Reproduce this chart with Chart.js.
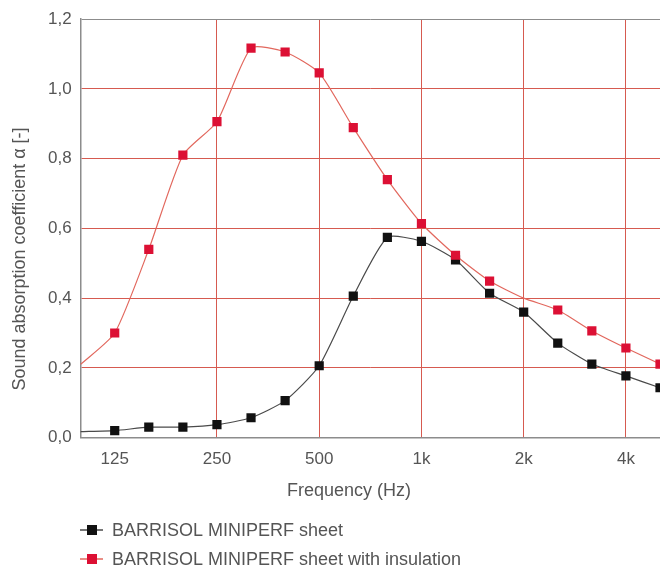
<!DOCTYPE html>
<html>
<head>
<meta charset="utf-8">
<script src="https://cdn.jsdelivr.net/npm/chart.js@4.4.0/dist/chart.umd.min.js"></script>
<style>
    html, body { margin: 0; padding: 0; background: #ffffff; overflow: hidden; }
    #wrap { width: 660px; height: 568px; position: relative; overflow: hidden; }
</style>
</head>
<body>
<div id="wrap"><canvas id="absorptionChart" width="672" height="568"></canvas></div>
<script>
// Third-octave frequencies (Hz)
const frequencies = ['100', '125', '160', '200', '250', '315', '400', '500', '630', '800',
                     '1k', '1.25k', '1.6k', '2k', '2.5k', '3.15k', '4k', '5k'];
const tickLabels = ['125', '250', '500', '1k', '2k', '4k'];
const gridLabels = ['250', '500', '1k', '2k', '4k'];

const sheetName = 'BARRISOL MINIPERF sheet';
const sheetValues = [0.017, 0.02, 0.03, 0.03, 0.037, 0.057, 0.106, 0.206, 0.406, 0.574,
                     0.563, 0.51, 0.414, 0.36, 0.271, 0.211, 0.177, 0.143];

const insulatedName = 'BARRISOL MINIPERF sheet with insulation';
const insulatedValues = [0.21, 0.30, 0.54, 0.81, 0.906, 1.117, 1.106, 1.046, 0.889, 0.74,
                         0.614, 0.523, 0.449, 0.40, 0.366, 0.306, 0.257, 0.211];

// frequencies drawn without a marker
const sheetNoMarker = ['100'];
const insulatedNoMarker = ['100', '2k'];

const xTitle = 'Frequency (Hz)';
const yTitle = 'Sound absorption coefficient α [-]';

const fontFamily = '"Liberation Sans", Arial, sans-serif';
const gridRed = '#d65a50';
const axisGrey = '#8c8c8c';
const textGrey = '#555555';

function markerRadius(hidden) {
    return frequencies.map(function(f) { return hidden.includes(f) ? 0 : 6.5; });
}

// axis titles (placed like the original, off the axis centres) and a legend with one item per row
const extrasPlugin = {
    id: 'extras',
    afterDraw: function(chart) {
        const ctx = chart.ctx;
        ctx.save();
        ctx.font = '18px ' + fontFamily;
        ctx.fillStyle = textGrey;
        ctx.textAlign = 'center';
        ctx.textBaseline = 'middle';
        ctx.fillText(xTitle, 349, 491);
        ctx.translate(20, 259);
        ctx.rotate(-Math.PI / 2);
        ctx.fillText(yTitle, 0, 0);
        ctx.restore();

        ctx.save();
        ctx.font = '18px ' + fontFamily;
        ctx.textBaseline = 'middle';
        ctx.textAlign = 'left';
        chart.data.datasets.slice().reverse().forEach(function(ds, i) {
            const y = 530 + i * 29;
            ctx.strokeStyle = ds.borderColor;
            ctx.lineWidth = 1.5;
            ctx.beginPath();
            ctx.moveTo(80, y);
            ctx.lineTo(103, y);
            ctx.stroke();
            ctx.fillStyle = ds.pointBackgroundColor;
            ctx.fillRect(87, y - 5, 10, 10);
            ctx.fillStyle = textGrey;
            ctx.fillText(ds.label, 112, y + 1);
        });
        ctx.restore();
    }
};

const ctx = document.getElementById('absorptionChart').getContext('2d');
new Chart(ctx, {
    type: 'line',
    data: {
        labels: frequencies,
        datasets: [{
            label: insulatedName,
            data: insulatedValues,
            borderColor: '#e2685e',
            borderWidth: 1.2,
            pointStyle: 'rect',
            pointRadius: markerRadius(insulatedNoMarker),
            pointBackgroundColor: '#dc1034',
            pointBorderColor: '#dc1034',
            pointBorderWidth: 0,
            tension: 0.2,
            order: 0
        }, {
            label: sheetName,
            data: sheetValues,
            borderColor: '#4a4a4a',
            borderWidth: 1.2,
            pointStyle: 'rect',
            pointRadius: markerRadius(sheetNoMarker),
            pointBackgroundColor: '#111111',
            pointBorderColor: '#111111',
            pointBorderWidth: 0,
            tension: 0.2,
            order: 1
        }]
    },
    options: {
        responsive: false,
        animation: false,
        layout: {
            autoPadding: false,
            padding: { top: 8, right: 0, bottom: 86, left: 39 }
        },
        scales: {
            x: {
                offset: false,
                grid: {
                    drawTicks: false,
                    lineWidth: 1,
                    color: function(context) {
                        const label = frequencies[context.index];
                        return gridLabels.includes(label) ? gridRed : 'rgba(0,0,0,0)';
                    }
                },
                border: { display: true, color: axisGrey, width: 1.5 },
                ticks: {
                    autoSkip: false,
                    maxRotation: 0,
                    padding: 12,
                    color: textGrey,
                    font: { family: fontFamily, size: 17 },
                    callback: function(value, index) {
                        const label = frequencies[index];
                        return tickLabels.includes(label) ? label : '';
                    }
                }
            },
            y: {
                min: 0,
                max: 1.2,
                grid: {
                    drawTicks: false,
                    lineWidth: 1,
                    color: function(context) {
                        const v = context.tick.value;
                        return (v < 0.01 || v > 1.19) ? axisGrey : gridRed;
                    }
                },
                border: { display: true, color: axisGrey, width: 1.5 },
                ticks: {
                    stepSize: 0.2,
                    padding: 9,
                    color: textGrey,
                    font: { family: fontFamily, size: 17 },
                    callback: function(value) {
                        return value.toFixed(1).replace('.', ',');
                    }
                }
            }
        },
        plugins: {
            legend: { display: false },
            tooltip: { enabled: false }
        }
    },
    plugins: [extrasPlugin]
});
</script>
</body>
</html>
